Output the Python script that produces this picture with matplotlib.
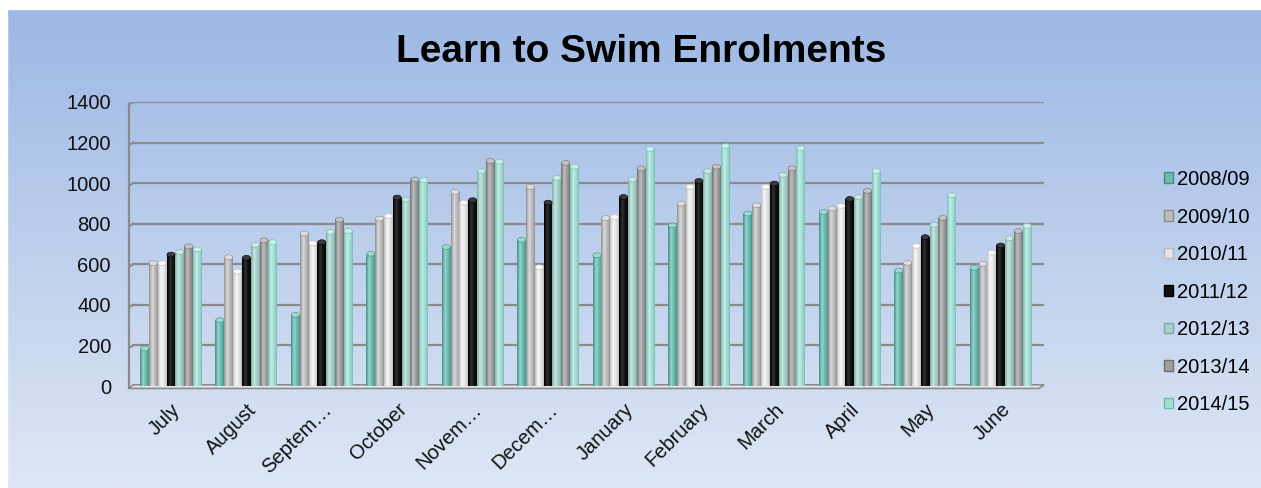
import numpy as np
import matplotlib
matplotlib.use('Agg')
import matplotlib.pyplot as plt
from matplotlib.colors import to_rgb
from matplotlib.patches import Polygon, Rectangle, Ellipse

plt.rcParams['font.family'] = ['Liberation Sans', 'DejaVu Sans']

# dados de matrículas por mês, uma lista por temporada
meses = ['July', 'August', 'Septem…', 'October', 'Novem…', 'Decem…',
         'January', 'February', 'March', 'April', 'May', 'June']
temporadas = ['2008/09', '2009/10', '2010/11', '2011/12', '2012/13', '2013/14', '2014/15']

t_2008_09 = [185, 325, 351, 652, 685, 721, 644, 792, 850, 858, 569, 583]
t_2009_10 = [605, 635, 751, 825, 957, 982, 828, 899, 891, 875, 607, 602]
t_2010_11 = [605, 564, 704, 838, 904, 586, 833, 982, 982, 888, 690, 657]
t_2011_12 = [648, 632, 709, 929, 916, 904, 932, 1011, 998, 922, 734, 693]
t_2012_13 = [660, 696, 759, 919, 1059, 1026, 1018, 1059, 1040, 932, 795, 729]
t_2013_14 = [688, 718, 820, 1018, 1109, 1100, 1073, 1081, 1073, 962, 828, 764]
t_2014_15 = [673, 709, 764, 1015, 1105, 1081, 1168, 1183, 1172, 1059, 940, 789]
valores = [t_2008_09, t_2009_10, t_2010_11, t_2011_12, t_2012_13, t_2013_14, t_2014_15]

# cor da borda, cor do meio e brilho de cada cilindro
cores = [
    ('#3f8d84', '#6cbcb2', '#9fd8cf'),
    ('#8c8c8c', '#bdbdbd', '#dedede'),
    ('#b8b8b8', '#e6e6e6', '#fafafa'),
    ('#000000', '#111111', '#3a3a3a'),
    ('#79aaa2', '#a6d3cb', '#c9e9e3'),
    ('#6f6f6f', '#a0a0a0', '#c4c4c4'),
    ('#74b9ae', '#a5ded5', '#c8f0ea'),
]


def gradiente(borda, meio, brilho, n=32):
    # perfil horizontal de um cilindro: escuro nas bordas, claro perto do centro
    t = np.linspace(0, 1, n)
    b, m, h = np.array(to_rgb(borda)), np.array(to_rgb(meio)), np.array(to_rgb(brilho))
    peso_h = np.exp(-((t - 0.38) / 0.16) ** 2)
    peso_m = np.sin(np.pi * t) ** 0.6
    cor = b[None, :] * (1 - peso_m[:, None]) + m[None, :] * peso_m[:, None]
    cor = cor * (1 - peso_h[:, None] * 0.8) + h[None, :] * peso_h[:, None] * 0.8
    return cor[None, :, :]


fig = plt.figure(figsize=(12.61, 4.88), dpi=100)

# fundo em degradê azul
fundo = fig.add_axes([0, 0, 1, 1], zorder=-10)
topo = np.array([155, 183, 228]) / 255
base = np.array([222, 231, 245]) / 255
s = np.linspace(0, 1, 256)[:, None]
fundo.imshow((topo * (1 - s) + base * s)[:, None, :], aspect='auto', extent=[0, 1, 0, 1])
fundo.add_patch(Rectangle((0, 0.982), 1, 0.02, color='white'))
fundo.add_patch(Rectangle((0, 0), 0.0055, 1, color='white'))
fundo.set_xlim(0, 1)
fundo.set_ylim(0, 1)
fundo.axis('off')

ax = fig.add_axes([0.1023, 0.209, 0.7257, 0.582])
ax.patch.set_alpha(0)
for lado in ax.spines.values():
    lado.set_visible(False)

x = np.arange(len(meses))
largura = 0.117
xl, xr = -0.556, 11.576
ax.set_xlim(xl, xr)
ax.set_ylim(0, 1400)

# linhas de grade com a pequena dobra da parede lateral
for v in range(200, 1401, 200):
    ax.plot([xl + 0.055, xr], [v, v], color='#8a8a8a', lw=1.6, zorder=1)
    ax.plot([xl, xl + 0.055], [v - 12, v], color='#8a8a8a', lw=1.6, zorder=1)
ax.plot([xl, xl], [-12, 1388], color='#8a8a8a', lw=1.6, zorder=1, clip_on=False)

# piso
piso = Polygon([(xl, -12), (xr - 0.07, -12), (xr, 6), (xl + 0.055, 6)],
               closed=True, facecolor='#e4e8ee', edgecolor='#8a8a8a', lw=1.2,
               zorder=1.5, clip_on=False)
ax.add_patch(piso)

for j, (serie, (b, m, h)) in enumerate(zip(valores, cores)):
    barras = ax.bar(x + (j - 3) * largura, serie, largura, color=m, zorder=2,
                    label=temporadas[j], linewidth=0)
    img = gradiente(b, m, h)
    for barra in barras:
        x0 = barra.get_x()
        im = ax.imshow(img, aspect='auto', zorder=3,
                       extent=[x0, x0 + barra.get_width(), 0, barra.get_height() + 10],
                       interpolation='bilinear')
        im.set_clip_path(barra)
        # tampa arredondada do cilindro
        ax.add_patch(Ellipse((x0 + barra.get_width() / 2, barra.get_height()),
                             barra.get_width() * 0.92, 24, facecolor=h, edgecolor=b,
                             lw=0.4, zorder=4))

ax.set_xlim(xl, xr)
ax.set_ylim(0, 1400)

ax.set_yticks(range(0, 1401, 200))
ax.tick_params(axis='y', length=0, pad=13, labelsize=14.5, labelcolor='#111111')
ax.set_xticks(x)
ax.set_xticklabels(meses, rotation=45, ha='right', va='top', rotation_mode='anchor',
                   fontsize=14.5, color='#111111')
ax.tick_params(axis='x', length=0, pad=10)

# legenda
alcas = [Rectangle((0, 0), 1, 1, facecolor=c[1], edgecolor=c[0], lw=1) for c in cores]
fig.legend(alcas, temporadas, loc='upper left', bbox_to_anchor=(0.917, 0.668),
           frameon=False, fontsize=14.5, handlelength=0.45, handleheight=0.45,
           handletextpad=0.2, labelspacing=0.92, borderaxespad=0)

fig.text(0.5085, 0.873, 'Learn to Swim Enrolments', ha='center', va='baseline',
         fontsize=28, fontweight='bold', color='black')

fig.savefig('out.png', dpi=100)
